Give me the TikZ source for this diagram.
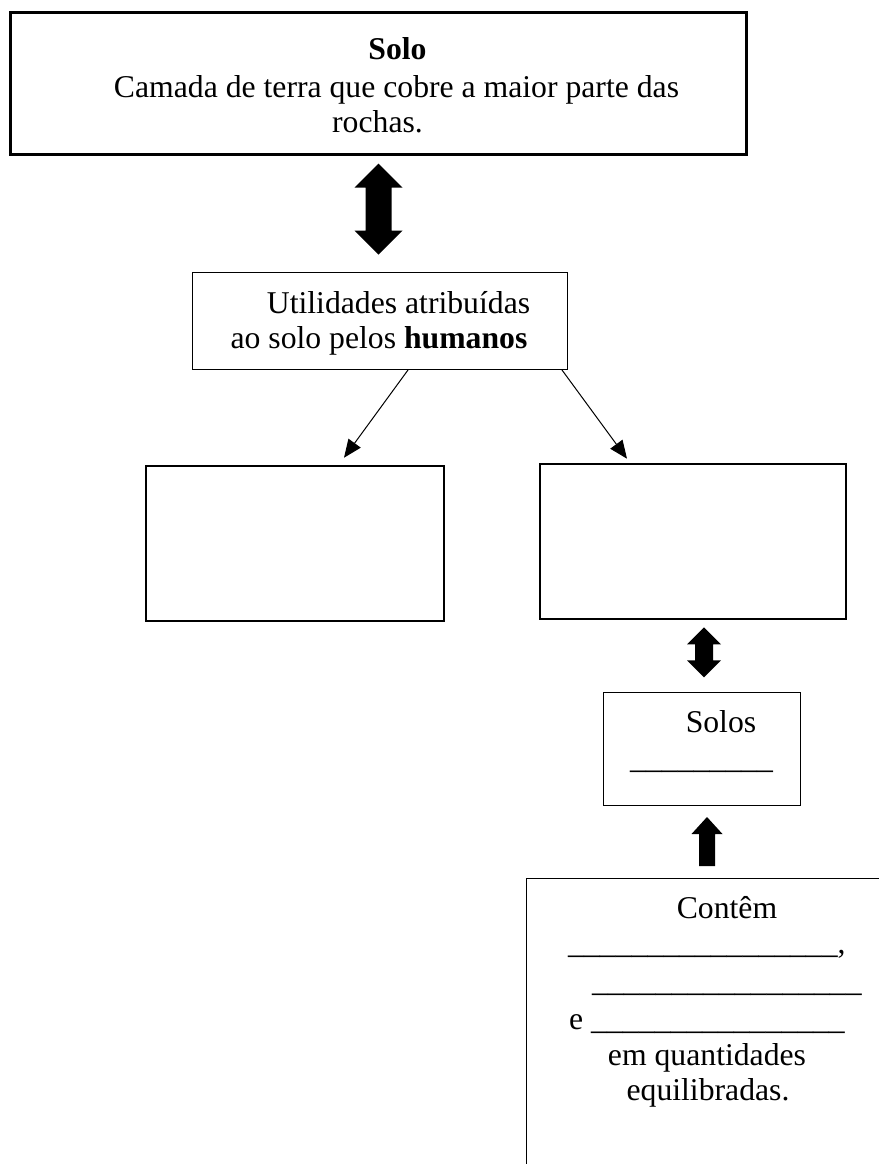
\documentclass[tikz,border=0pt]{standalone}
\usepackage{fontspec}
\setmainfont{Liberation Serif}
\usetikzlibrary{arrows.meta}
\tikzset{
  boxthick/.style={draw, line width=2.6bp, inner sep=0pt, rectangle},
  boxthin/.style={draw, line width=1bp, inner sep=0pt, rectangle},
  txt/.style={inner sep=0pt, anchor=base, font=\fontsize{31.7bp}{38bp}\selectfont},
  txtw/.style={txt, anchor=base west},
  link/.style={line width=1bp, -{Triangle[length=18bp,width=15bp]}},
  pics/dblarrow/.style n args={4}{code={
    \fill[black] (0,0) -- (#2,#4) -- (#3,#4) -- (#3,#1-#4) -- (#2,#1-#4) -- (0,#1)
      -- (-#2,#1-#4) -- (-#3,#1-#4) -- (-#3,#4) -- (-#2,#4) -- cycle;
  }},
  pics/uparrow/.style n args={4}{code={
    \fill[black] (0,0) -- (#2,#4) -- (#3,#4) -- (#3,#1) -- (-#3,#1) -- (-#3,#4) -- (-#2,#4) -- cycle;
  }}
}
\begin{document}
\begin{tikzpicture}[x=1bp,y=-1bp]
\clip (0,0) rectangle (879,1164);
\fill[white] (0,0) rectangle (879,1164);

% top box
\node[boxthick, minimum width=736bp, minimum height=141.5bp] (top) at (378.5,83.5) {};
\node[txt] (solo) at (397.5,59) {\bfseries Solo};
\node[txt] (camada) at (396.5,97) {Camada de terra que cobre a maior parte das};
\node[txt] (rochas) at (377.5,132) {rochas.};

% utilities box
\node[boxthin, minimum width=375bp, minimum height=97bp] (util) at (380,321) {};
\node[txt] (util1) at (398.5,313) {Utilidades atribuídas};
\node[txt] (util2) at (379,348) {ao solo pelos \textbf{humanos}};

% empty boxes
\node[boxthick, minimum width=298bp, minimum height=155bp] (lbox) at (295,543.5) {};
\node[boxthick, minimum width=306bp, minimum height=155bp] (rbox) at (693,541.5) {};

% solos box
\node[boxthin, minimum width=197bp, minimum height=113bp] (solos) at (702,749) {};
\node[txt] (solost) at (721,732) {Solos};
\node[txtw] (solosl) at (630,768) {\_\_\_\_\_\_\_\_\_};

% bottom box
\node[boxthin, minimum width=400bp, minimum height=400bp, anchor=north west] (contem) at (525.5,878) {};
\node[txt] (c1) at (727,918) {Contêm};
\node[txtw] (c2) at (568,953) {\_\_\_\_\_\_\_\_\_\_\_\_\_\_\_\_\_,};
\node[txtw] (c3) at (592,991) {\_\_\_\_\_\_\_\_\_\_\_\_\_\_\_\_\_};
\node[txtw] (c4) at (569,1029) {e \_\_\_\_\_\_\_\_\_\_\_\_\_\_\_\_};
\node[txt] (c5) at (707,1065) {em quantidades};
\node[txt] (c6) at (708,1100) {equilibradas.};

% thin arrows
\draw[link] ([xshift=28bp]util.south) -- ([xshift=49bp,yshift=7bp]lbox.north);
\draw[link] ([xshift=182bp]util.south) -- ([xshift=-66bp,yshift=4bp]rbox.north);

% block arrows
\pic at ([yshift=-8bp]top.south) {dblarrow={91}{24}{13}{24}};
\pic at ([xshift=11bp,yshift=-7bp]rbox.south) {dblarrow={50}{17}{9}{17}};
\pic at ([xshift=5bp,yshift=-11bp]solos.south) {uparrow={49}{15.5}{8}{17}};
\end{tikzpicture}
\end{document}
